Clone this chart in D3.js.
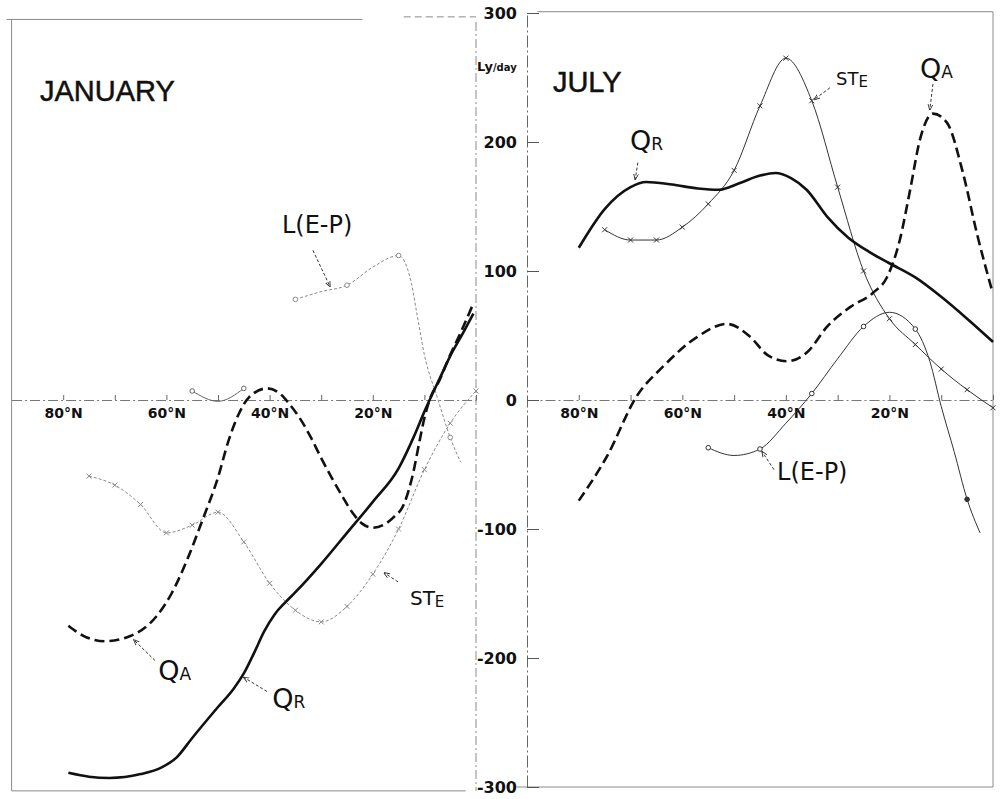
<!DOCTYPE html>
<html>
<head>
<meta charset="utf-8">
<script src="https://cdn.jsdelivr.net/npm/d3@7"></script>
<style>
  html, body { margin: 0; padding: 0; background: #fff; }
  svg { display: block; }
</style>
</head>
<body>
<svg id="chart" width="1002" height="799"></svg>
<script>
// Axis ticks
const latTicks = [80, 70, 60, 50, 40, 30, 20, 10, 0];
const latLabels = [80, 60, 40, 20];
const valueTicks = [300, 200, 100, 0, -100, -200, -300];

// JANUARY — [latitude °N, Ly/day]
const janQR = [[79,-289],[75,-292],[71,-293],[65,-290],[61,-285],[58,-277],[55,-262],[50,-238],[47,-224],[45,-212],[43,-196],[41,-179],[39,-166],[37,-157],[35,-149],[30,-127],[25,-103],[20,-79],[15,-53],[12,-28],[10,-9],[7,17],[5,34],[2.5,52],[0.5,67]];
const janQA = [[79,-175],[76,-183],[72,-187],[67,-183],[62,-168],[59,-150],[56,-124],[53,-93],[50,-60],[48,-32],[46,-11],[44,2],[40.5,9],[38,5],[36,-4],[34,-15],[32,-29],[30,-45],[28,-60],[26,-74],[24,-87],[22,-96],[20,-99],[18,-97],[16,-91],[14,-81],[12.2,-57],[11,-33],[10,-14],[9,0],[7,16],[5,35],[3,52],[0.5,75]];
const janSTE = [[75,-59],[70,-66],[65,-81],[60,-103],[55,-97],[50,-87],[45,-110],[40,-142],[35,-163],[30,-172],[25,-160],[20,-135],[15,-100],[10,-54],[5,-18],[0,7]];
const janLEP1 = [[55,7],[50,-1],[45,9]];
const janLEP2 = [[35,78],[30,84],[25,89],[20,103],[15,112],[13.8,107],[12.5,90],[11.5,68],[10,35],[7.5,2],[5,-29],[3,-48]];

// JULY — [latitude °N, Ly/day]
const julQR = [[80,118],[75,148],[70,165],[67,169],[62,167],[57,164],[53,163],[49,168],[45,174],[42,176],[39,172],[36,163],[32,142],[28,126],[24,115],[20,106],[15,95],[10,80],[5,63],[0,45]];
const julQA = [[80,-78],[74.6,-44],[68.8,3],[63.7,26],[57.1,49],[51.4,59],[46.9,49],[43.6,35],[39.8,30],[35.9,37],[32,57],[27.6,72],[23.2,83],[20.5,95],[18,124],[16,163],[14.1,202],[11.6,222],[8.9,215],[5.8,176],[3.1,129],[0.2,85]];
const julSTE = [[75,132],[70,124],[65,124],[60,134],[55,152],[50,178],[45,228],[40,265],[35,232],[30,165],[25,100],[20,63],[15,43],[10,24],[5,8],[0,-6]];
const julLEP = [[55,-37],[50,-43],[45,-38],[40,-18],[35,5],[30,32],[25,57],[20,68],[15,55],[12.2,30],[10,-5],[7.5,-40],[5,-77],[2.5,-103]];

const svg = d3.select("#chart");
const FONT = "'DejaVu Sans', 'Liberation Sans', sans-serif";

const y = d3.scaleLinear().domain([-300, 300]).range([787, 13]);
const xJan = d3.scaleLinear().domain([90, 0]).range([11.6, 476]);
const xJul = d3.scaleLinear().domain([90, 0]).range([527, 993]);

// arrowhead for leader lines
svg.append("defs").append("marker")
  .attr("id", "tip").attr("viewBox", "0 0 10 10").attr("refX", 9).attr("refY", 5)
  .attr("markerWidth", 6).attr("markerHeight", 6).attr("orient", "auto")
  .append("path").attr("d", "M0,1L10,5L0,9").attr("fill", "none")
  .attr("stroke", "#333").attr("stroke-width", 1.5);

// panel frames
const frame = svg.append("g").attr("fill", "none").attr("stroke", "#8a8a8a").attr("stroke-width", 1);
frame.append("path").attr("d", `M${xJan(90)},${y(295)}V${y(-303)}H${xJan(2)}`);
frame.append("path").attr("d", `M${xJan(91)},${y(295)}H${xJan(22)}`);
frame.append("path").attr("d", `M${xJan(14)},${y(297)}H${xJan(0)}`).attr("stroke-dasharray", "7,4");
frame.append("path").attr("d", `M${xJan(0)},${y(293)}V${y(-303)}`).attr("stroke-dasharray", "9,3,2,3");
frame.append("path").attr("d", `M${xJul(88)},${y(301)}H${xJul(0)}V${y(-300)}H${xJul(92)}`);

// latitude axes
function latAxis(x) {
  const g = svg.append("g").attr("transform", `translate(0,${y(0)})`)
    .call(d3.axisBottom(x).tickValues(latTicks).tickSize(-5).tickSizeOuter(0).tickPadding(8)
      .tickFormat(d => latLabels.includes(d) ? d + "°N" : ""));
  g.select(".domain").attr("stroke", "#777").attr("stroke-dasharray", "10,3,2,3");
  g.selectAll(".tick line").attr("stroke", "#666");
  g.selectAll("text").attr("font-family", FONT).attr("font-weight", "bold")
    .attr("font-size", 14).attr("fill", "#111");
}
latAxis(xJan);
latAxis(xJul);

// value axis between the panels
const va = svg.append("g").attr("transform", `translate(${xJul(90)},0)`)
  .call(d3.axisLeft(y).tickValues(valueTicks).tickSize(-12).tickSizeOuter(0).tickPadding(10)
    .tickFormat(d => String(d)));
va.select(".domain").attr("stroke", "#666").attr("stroke-dasharray", "12,3,2,3");
va.selectAll(".tick line").attr("stroke", "#555");
va.selectAll("text").attr("font-family", FONT).attr("font-weight", "bold")
  .attr("font-size", 16).attr("fill", "#111");

const unit = svg.append("text").attr("x", xJul(90) - 50).attr("y", y(255))
  .attr("font-family", FONT).attr("font-weight", "bold").attr("font-size", 13).attr("fill", "#111");
unit.append("tspan").text("Ly");
unit.append("tspan").attr("font-size", 10).text("/day");

// curves
function curveLine(x) {
  return d3.line().x(d => x(d[0])).y(d => y(d[1])).curve(d3.curveMonotoneX);
}
function drawQR(data, x) {
  svg.append("path").datum(data).attr("d", curveLine(x))
    .attr("fill", "none").attr("stroke", "#111").attr("stroke-width", 2.6);
}
function drawQA(data, x) {
  svg.append("path").datum(data).attr("d", curveLine(x))
    .attr("fill", "none").attr("stroke", "#111").attr("stroke-width", 2.6)
    .attr("stroke-dasharray", "10,5");
}
function drawSTE(data, x, color, dash) {
  svg.append("path").datum(data).attr("d", curveLine(x))
    .attr("fill", "none").attr("stroke", color).attr("stroke-width", 1)
    .attr("stroke-dasharray", dash);
  svg.append("g").selectAll("path").data(data).join("path")
    .attr("transform", d => `translate(${x(d[0])},${y(d[1])})`)
    .attr("d", "M-2.5,-2.5L2.5,2.5M-2.5,2.5L2.5,-2.5")
    .attr("stroke", color).attr("stroke-width", 1);
}
function drawLEP(data, x, color, dash, filledLat) {
  svg.append("path").datum(data).attr("d", curveLine(x))
    .attr("fill", "none").attr("stroke", color).attr("stroke-width", 1)
    .attr("stroke-dasharray", dash);
  svg.append("g").selectAll("circle").data(data.filter(d => d[0] % 10 === 5)).join("circle")
    .attr("cx", d => x(d[0])).attr("cy", d => y(d[1])).attr("r", 2.3)
    .attr("fill", d => d[0] === filledLat ? color : "#fff")
    .attr("stroke", color).attr("stroke-width", 1);
}

drawSTE(janSTE, xJan, "#8a8a8a", "3,2");
drawLEP(janLEP1, xJan, "#666", null, null);
drawLEP(janLEP2, xJan, "#8a8a8a", "3,2", null);
drawQA(janQA, xJan);
drawQR(janQR, xJan);

drawSTE(julSTE, xJul, "#333", null);
drawLEP(julLEP, xJul, "#333", null, 5);
drawQA(julQA, xJul);
drawQR(julQR, xJul);

// titles
svg.append("text").attr("x", xJan(84.5)).attr("y", y(232)).text("JANUARY")
  .attr("font-family", "'Liberation Sans', sans-serif").attr("font-size", 29)
  .attr("fill", "#111").attr("stroke", "#111").attr("stroke-width", 0.5);
svg.append("text").attr("x", xJul(85)).attr("y", y(239)).text("JULY")
  .attr("font-family", "'Liberation Sans', sans-serif").attr("font-size", 29)
  .attr("fill", "#111").attr("stroke", "#111").attr("stroke-width", 0.5);

// curve labels with leaders: [x scale, text, subscript, lat, value, size, sub size, leader from, leader to]
const labels = [
  [xJan, "L(E-P)", "", 37.6, 129.5, 24, 0, [31.6, 116], [28.3, 88]],
  [xJan, "Q", "A", 61.6, -217, 27, 17, [62.2, -202], [66.3, -186]],
  [xJan, "Q", "R", 39.5, -239, 27, 17, [40.5, -226], [45, -215]],
  [xJan, "ST", "E", 12.8, -159, 20, 15, [15.1, -141], [17.8, -134]],
  [xJul, "Q", "R", 70.1, 194, 27, 17, [68.6, 184], [69.1, 171]],
  [xJul, "ST", "E", 30.3, 244, 18, 15, [31.5, 242], [34.5, 233]],
  [xJul, "Q", "A", 14.1, 250, 27, 17, [11.6, 245], [12.2, 225]],
  [xJul, "L(E-P)", "", 41.7, -62, 24, 0, [42.3, -54], [44.6, -40]]
];
labels.forEach(([x, main, sub, lat, val, size, subSize, from, to]) => {
  const t = svg.append("text").attr("x", x(lat)).attr("y", y(val))
    .attr("font-family", FONT).attr("font-size", size).attr("fill", "#111");
  t.append("tspan").text(main);
  if (sub) t.append("tspan").attr("font-size", subSize).attr("dy", main === "ST" ? 2 : 0).text(sub);
  svg.append("line")
    .attr("x1", x(from[0])).attr("y1", y(from[1]))
    .attr("x2", x(to[0])).attr("y2", y(to[1]))
    .attr("stroke", "#333").attr("stroke-width", 1).attr("stroke-dasharray", "3,2")
    .attr("marker-end", "url(#tip)");
});
</script>
</body>
</html>
